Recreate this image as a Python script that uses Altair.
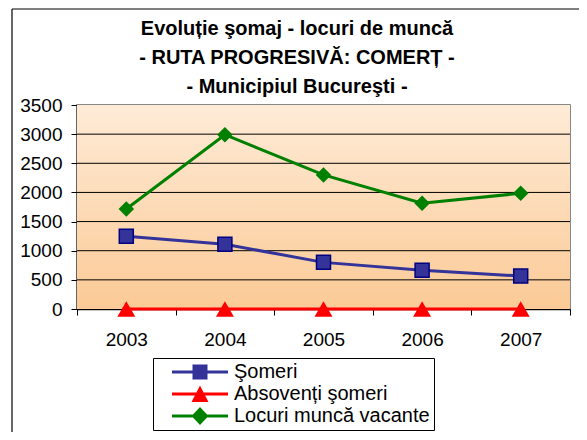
import altair as alt
import pandas as pd

# ---- data ----
years = ["2003", "2004", "2005", "2006", "2007"]
someri = [1250, 1110, 800, 665, 565]
absolventi = [0, 0, 0, 0, 0]
locuri = [1715, 2990, 2300, 1815, 1985]
series_names = ["Şomeri", "Absovenți şomeri", "Locuri muncă vacante"]
y_ticks = [0, 500, 1000, 1500, 2000, 2500, 3000, 3500]
title_lines = [
    "Evoluție şomaj - locuri de muncă",
    "- RUTA PROGRESIVĂ: COMERȚ -",
    "- Municipiul Bucureşti -",
]

# ---- styles ----
line_colors = ["#333399", "#FF0000", "#008000"]
marker_fill = ["#333399", "#FF0000", "#008000"]
marker_stroke = ["#000080", "#FF0000", "#008000"]
marker_shapes = ["square", "triangle-up", "diamond"]
marker_sizes = [196, 324, 240]
marker_sw = [1.5, 0, 0]
legend_paths = [
    "M0.5,-0.15H6.1V0.15H0.5Z M2.55,-0.75H4.05V0.75H2.55Z",
    "M0.5,-0.15H6.1V0.15H0.5Z M3.3,-0.85L4.15,0.8L2.45,0.8Z",
    "M0.5,-0.15H6.1V0.15H0.5Z M3.3,-0.9L4.15,0L3.3,0.9L2.45,0Z",
]
FONT = "Liberation Sans"
W, H = 493, 204

rows = []
for name, vals in zip(series_names, [someri, absolventi, locuri]):
    for yr, v in zip(years, vals):
        rows.append({"year": yr, "value": v, "series": name})
df = pd.DataFrame(rows)

xscale = alt.Scale(type="band", domain=years, paddingInner=0, paddingOuter=0)
yscale = alt.Scale(domain=[0, 3500], nice=False, zero=True)
xaxis = alt.Axis(title=None, labelAngle=0, tickBand="extent", tickSize=6,
                 labelPadding=15, domainColor="black", domainWidth=1.5,
                 tickColor="black", labelFont=FONT, labelFontSize=19,
                 labelColor="black", grid=False)
yaxis = alt.Axis(title=None, values=y_ticks, format="d", tickSize=6, labelPadding=9,
                 domainColor="black", domainWidth=1.5, tickColor="black",
                 labelFont=FONT, labelFontSize=19, labelColor="black", grid=False)


def X():
    return alt.X("year:N", scale=xscale, axis=xaxis, bandPosition=0.5)


def Y(field="value:Q"):
    return alt.Y(field, scale=yscale, axis=yaxis)


gradient = alt.LinearGradient(
    gradient="linear",
    stops=[alt.GradientStop(color="#FEEBD7", offset=0),
           alt.GradientStop(color="#FBCA96", offset=1)],
    x1=0, x2=0, y1=0, y2=1,
)

bg = alt.Chart(alt.Data(values=[{"k": 0}])).mark_rect(color=gradient).encode(
    x=alt.value(0), x2=alt.value(W), y=alt.value(0), y2=alt.value(H)
)

grid = alt.Chart(pd.DataFrame({"v": y_ticks[1:-1]})).mark_rule(
    color="black", strokeWidth=1
).encode(y=Y("v:Q"))

layers = [bg, grid]
for i, name in enumerate(series_names):
    base = alt.Chart(df).transform_filter(alt.datum.series == name)
    layers.append(base.mark_line(color=line_colors[i], strokeWidth=3).encode(x=X(), y=Y()))
for i, name in enumerate(series_names):
    base = alt.Chart(df).transform_filter(alt.datum.series == name)
    layers.append(base.mark_point(
        shape=marker_shapes[i], filled=True, size=marker_sizes[i],
        fill=marker_fill[i], stroke=marker_stroke[i], strokeWidth=marker_sw[i],
        opacity=1,
    ).encode(x=X(), y=Y()))

leg = alt.Legend(
    orient="none", legendX=76, legendY=253, title=None,
    labelFont=FONT, labelFontSize=20, labelColor="black", labelLimit=600,
    symbolSize=400, symbolStrokeWidth=0, symbolOpacity=1, labelOffset=57,
    padding=4, rowPadding=2, strokeColor="black", fillColor="white",
)
legend_layer = alt.Chart(df).mark_point(filled=True, opacity=0).encode(
    x=X(), y=Y(),
    color=alt.Color("series:N", scale=alt.Scale(domain=series_names, range=line_colors), legend=leg),
    shape=alt.Shape("series:N", scale=alt.Scale(domain=series_names, range=legend_paths), legend=leg),
)
layers.append(legend_layer)

# title lines
title_baselines = [-70, -41, -12]
for line, yb in zip(title_lines, title_baselines):
    layers.append(alt.Chart(alt.Data(values=[{"t": line}])).mark_text(
        font=FONT, fontSize=20, fontWeight="bold", color="black",
        align="center", baseline="alphabetic",
    ).encode(text="t:N", x=alt.value(220), y=alt.value(yb)))

# outer frame (left and top edges)
layers.append(alt.Chart(alt.Data(values=[{"k": 0}])).mark_rule(color="black", strokeWidth=1.2).encode(
    x=alt.value(-65), y=alt.value(-96), y2=alt.value(330)))
layers.append(alt.Chart(alt.Data(values=[{"k": 0}])).mark_rule(color="black", strokeWidth=1.2).encode(
    x=alt.value(-65), x2=alt.value(520), y=alt.value(-96)))

chart = alt.layer(*layers).properties(
    width=W, height=H,
    autosize=alt.AutoSizeParams(type="none"),
    padding={"left": 69, "top": 97, "right": 9, "bottom": 123},
    background="white",
).configure_view(stroke="#606060", strokeWidth=1.5)

chart.save("out.html", embed_options={"renderer": "svg", "actions": False})
